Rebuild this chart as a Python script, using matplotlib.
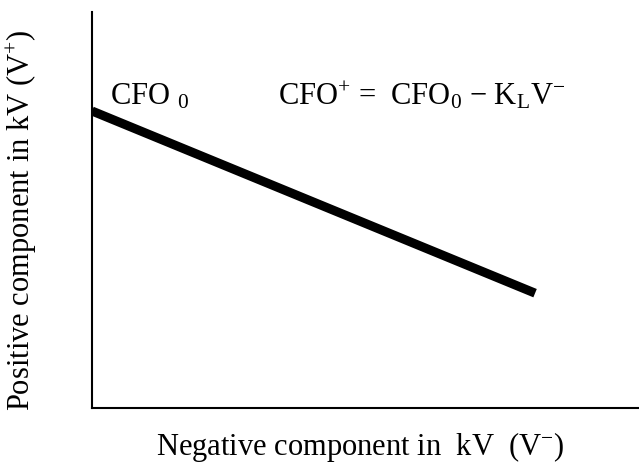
import matplotlib
matplotlib.use("Agg")
import matplotlib.pyplot as plt

plt.rcParams['font.family'] = ['Liberation Serif', 'DejaVu Serif']
plt.rcParams['mathtext.fontset'] = 'custom'
plt.rcParams['mathtext.rm'] = 'Liberation Serif'
plt.rcParams['mathtext.it'] = 'Liberation Serif:italic'

# Schematic line: positive component vs negative component (arbitrary units)
v_neg = [0.0, 0.81]
v_pos = [0.75, 0.29]

fig = plt.figure(figsize=(6.39, 4.64), dpi=100)
ax = fig.add_axes([92 / 639, 55 / 464, 1 - 92 / 639, 396 / 464])

ax.plot(v_neg, v_pos, color='black', linewidth=6.5, solid_capstyle='butt')

ax.set_xlim(0, 1)
ax.set_ylim(0, 1)

# labels on the plot
ax.text(0.033, 0.768, r'CFO $_{0}$', fontsize=22, ha='left', va='baseline')
ax.text(0.34, 0.768, r'CFO$^{+}$ =  CFO$_0$ $-$ K$_{\mathrm{L}}$V$^{\mathrm{-}}$',
        fontsize=22, ha='left', va='baseline')

ax.set_xlabel('Negative component in  kV  (V$^{-}$)', fontsize=22, va='center')
ax.xaxis.set_label_coords(0.49, -0.096)
ax.set_ylabel('Positive component in kV (V$^{+}$)', fontsize=22, va='center')
ax.yaxis.set_label_coords(-0.128, 0.477)

ax.set_xticks([])
ax.set_yticks([])
ax.spines['top'].set_visible(False)
ax.spines['right'].set_visible(False)
ax.spines['left'].set_linewidth(1.5)
ax.spines['bottom'].set_linewidth(1.5)

fig.savefig('out.png', dpi=100, facecolor='white')
